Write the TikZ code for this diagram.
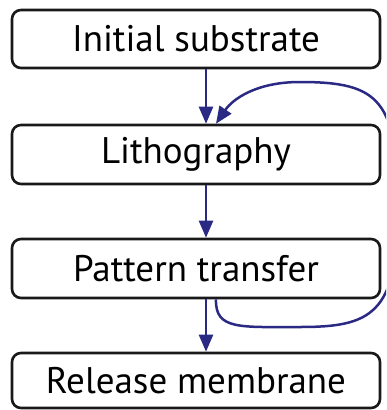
\documentclass[tikz,border=0pt]{standalone}
\usepackage{fontspec}
\setmainfont{PT Sans}
\usepackage{tikz}
\usetikzlibrary{calc,arrows.meta}

\definecolor{flowblue}{RGB}{42,42,132}
\tikzset{
	stepbox/.style={draw=black!90,line width=2.6pt,rounded corners=9pt,minimum width=368pt,inner sep=0pt,font=\fontsize{37}{44}\selectfont},
	flow/.style={draw=flowblue,line width=2.5pt,-{Triangle[length=17pt,width=14pt]}}
}

\begin{document}
\begin{tikzpicture}[x=1pt,y=-1pt]
	\useasboundingbox (0,0) rectangle (386,410);
	\clip (0,0) rectangle (386,410);
	
	\node[stepbox,minimum height=58pt] (init) at (196,39) {Initial substrate};
	\node[stepbox,minimum height=59pt] (litho) at (196,154.5) {Lithography};
	\node[stepbox,minimum height=59pt] (transfer) at (196,268.5) {Pattern transfer};
	\node[stepbox,minimum height=55pt] (release) at (196,380.5) {Release membrane};
	
	\coordinate (down) at (206,0);
	\coordinate (back) at (216,0);
	
	\draw[flow] (init.south -| down) -- (litho.north -| down);
	\draw[flow] (litho.south -| down) -- (transfer.north -| down);
	\draw[flow] (transfer.south -| down) -- (release.north -| down);
	
	%zurueck zur Lithographie
	\draw[flow] (transfer.south -| back) .. controls (215,330) and (240,327) .. (300,327)
		.. controls (370,327) and (398,315) .. (398,210)
		.. controls (398,100) and (380,82) .. (300,82)
		.. controls (255,82) and (232,100) .. (litho.north -| back);
\end{tikzpicture}
\end{document}
